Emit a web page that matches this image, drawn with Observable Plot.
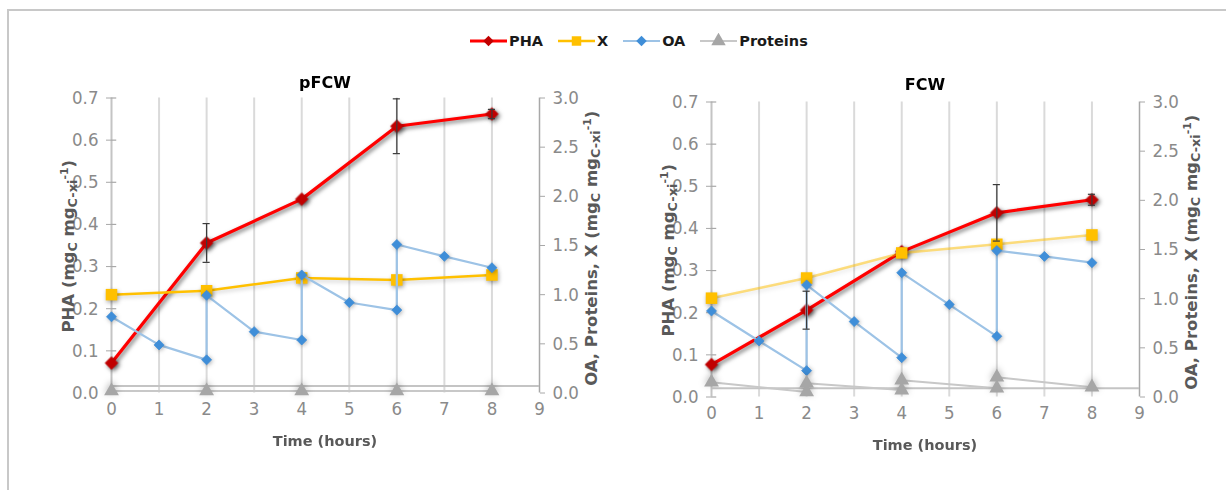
<!DOCTYPE html>
<html>
<head>
<meta charset="utf-8">
<script src="https://cdn.jsdelivr.net/npm/d3@7"></script>
<script src="https://cdn.jsdelivr.net/npm/@observablehq/plot@0.6"></script>
<style>
  body { margin: 0; background: #fff; }
  #fig { position: relative; width: 1226px; height: 490px; overflow: hidden; background: #fff; }
  #frame { position: absolute; left: 7px; top: 9px; width: 1240px; height: 500px;
           border-top: 2px solid #c8c8c8; border-left: 2px solid #c8c8c8; }
  #legend { position: absolute; top: 33px; left: 470px; display: flex; align-items: center; gap: 15px;
            font-family: "DejaVu Sans", sans-serif; font-weight: bold; font-size: 14.5px; color: #1a1a1a; }
  #legend .item { display: flex; align-items: center; gap: 2px; }
  .panel { position: absolute; }
  .panel svg { overflow: visible; }
  g[aria-description="pha-line"], g[aria-description="pha-dots"] { filter: drop-shadow(2px 2px 2px rgba(0,0,0,0.55)); }
  g[aria-description="x-line"] { filter: drop-shadow(1px 2px 2px rgba(0,0,0,0.2)); }
  g[aria-description="x-dots"] { filter: drop-shadow(1px 2px 2px rgba(0,0,0,0.35)); }
  g[aria-description="oa-dots"] { filter: drop-shadow(1px 1px 2px rgba(0,0,0,0.3)); }
  g[aria-description="prot-dots"] { filter: drop-shadow(0px -2px 3px rgba(0,0,0,0.25)); }
</style>
</head>
<body>
<div id="fig">
  <div id="frame"></div>
  <div id="legend"></div>
  <div id="left" class="panel" style="left:0px; top:60px;"></div>
  <div id="right" class="panel" style="left:600px; top:63.5px;"></div>
</div>
<script>
// ---------- data ----------
const phaHours = [0, 2, 4, 6, 8];
const oaHours = [0, 1, 2, 2, 3, 4, 4, 5, 6, 6, 7, 8];
const xTickValues = [0, 1, 2, 3, 4, 5, 6, 7, 8, 9];
const leftTicks = [0, 0.1, 0.2, 0.3, 0.4, 0.5, 0.6, 0.7];
const rightTicks = [0, 0.5, 1.0, 1.5, 2.0, 2.5, 3.0];
const seriesNames = ["PHA", "X", "OA", "Proteins"];

// pFCW
const pFCW_PHA = [0.071, 0.356, 0.460, 0.633, 0.662];
const pFCW_PHA_sd = [0, 0.046, 0, 0.065, 0.011];
const pFCW_X = [1.00, 1.04, 1.17, 1.15, 1.20];
const pFCW_OA = [0.775, 0.489, 0.337, 0.994, 0.624, 0.539, 1.20, 0.92, 0.843, 1.51, 1.39, 1.274];
const pFCW_protHours = [0, 2, 4, 6, 8];
const pFCW_Prot = [0.02, 0.02, 0.02, 0.02, 0.02];
const pFCW_baseLine = 0.07;

// FCW
const FCW_PHA = [0.077, 0.206, 0.345, 0.437, 0.468];
const FCW_PHA_sd = [0, 0.045, 0, 0.067, 0.013];
const FCW_X = [1.005, 1.21, 1.465, 1.553, 1.648];
const FCW_OA = [0.875, 0.57, 0.268, 1.14, 0.767, 0.40, 1.263, 0.94, 0.617, 1.489, 1.43, 1.366];
const FCW_protHours = [0, 2, 2, 4, 4, 6, 6, 8];
const FCW_Prot = [0.15, 0.05, 0.14, 0.07, 0.17, 0.09, 0.20, 0.10];
const FCW_baseLine = 0.09;

// ---------- drawing ----------
const K = 0.7 / 3; // secondary (right) axis value -> primary scale
const tickFont = "'Liberation Sans Narrow','DejaVu Sans Condensed',sans-serif";
const labelFont = "'DejaVu Sans',sans-serif";

function addRich(g, parts, size) {
  parts.forEach(p => {
    const t = g.append("tspan").text(p.t);
    if (p.sub) t.attr("font-size", size * 0.78).attr("baseline-shift", "-22%");
    else if (p.sup) t.attr("font-size", size * 0.66).attr("baseline-shift", "55%");
  });
}

function drawPanel(host, cfg) {
  const phaRows = phaHours.map((h, i) => ({h, v: cfg.pha[i], sd: cfg.sd[i]}));
  const errRows = phaRows.filter(d => d.sd > 0);
  const xRows = phaHours.map((h, i) => ({h, v: cfg.x[i] * K}));
  const oaRows = oaHours.map((h, i) => ({h, v: cfg.oa[i] * K}));
  const protRows = cfg.protHours.map((h, i) => ({h, v: cfg.prot[i] * K}));

  const svg = Plot.plot({
    width: 600, height: 400,
    marginLeft: 111, marginRight: 61, marginTop: 37.5, marginBottom: 67.5,
    style: {fontFamily: tickFont, fontSize: "18.5px", color: "#8a8a8a", background: "transparent", overflow: "visible"},
    x: {domain: [0, 9]},
    y: {domain: [0, 0.7]},
    marks: [
      Plot.ruleX(xTickValues.slice(1, 9), {stroke: "#dadada", strokeWidth: 2}),
      Plot.ruleX([0], {stroke: "#c4c4c4", strokeWidth: 2}),
      Plot.ruleX([9], {stroke: "#a8a8a8", strokeWidth: 1.5}),
      Plot.ruleY([cfg.base * K], {stroke: "#c4c4c4", strokeWidth: 2}),
      Plot.axisY({anchor: "left", ticks: leftTicks, tickFormat: d3.format(".1f"), tickSize: 5, tickPadding: 8, label: null, stroke: "#a8a8a8"}),
      Plot.ruleY(leftTicks, {x1: 0, x2: 0.11, stroke: "#a8a8a8", strokeWidth: 1.2}),
      Plot.axisY({anchor: "right", ticks: rightTicks.map(v => v * K), tickFormat: d => (d / K).toFixed(1), tickSize: 5, tickPadding: 8, label: null, stroke: "#a8a8a8"}),
      Plot.axisX({ticks: xTickValues, tickFormat: d => String(d), tickSize: 0, tickPadding: 9, label: null}),
      // PHA
      Plot.line(phaRows, {x: "h", y: "v", stroke: "#ff0000", strokeWidth: 3.2, ariaDescription: "pha-line"}),
      Plot.dot(phaRows, {x: "h", y: "v", symbol: "diamond2", r: 5.6, fill: "#c00000", stroke: "#c00000", strokeWidth: 1, ariaDescription: "pha-dots"}),
      // X
      Plot.line(xRows, {x: "h", y: "v", stroke: "#ffc000", strokeOpacity: cfg.xOpacity, strokeWidth: 2.5, ariaDescription: "x-line"}),
      Plot.dot(xRows, {x: "h", y: "v", symbol: "square", r: 6.5, fill: "#ffc000", stroke: "none", ariaDescription: "x-dots"}),
      // OA
      Plot.line(oaRows, {x: "h", y: "v", stroke: "#9dc3e6", strokeWidth: 2.2}),
      Plot.dot(oaRows, {x: "h", y: "v", symbol: "diamond2", r: 4.5, fill: "#3f8ed8", stroke: "#3f8ed8", strokeWidth: 0.8, ariaDescription: "oa-dots"}),
      // Proteins
      Plot.line(protRows, {x: "h", y: "v", stroke: "#c8c8c8", strokeWidth: 2}),
      Plot.dot(protRows, {x: "h", y: "v", symbol: "triangle", r: 5.5, fill: "#a6a6a6", stroke: "none", ariaDescription: "prot-dots"}),
      // PHA error bars
      Plot.ruleX(errRows, {x: "h", y1: d => d.v - d.sd, y2: d => d.v + d.sd, stroke: "#3a3a3a", strokeWidth: 1.2}),
      Plot.ruleY(errRows, {y: d => d.v + d.sd, x1: d => d.h - 0.075, x2: d => d.h + 0.075, stroke: "#3a3a3a", strokeWidth: 1.2}),
      Plot.ruleY(errRows, {y: d => d.v - d.sd, x1: d => d.h - 0.075, x2: d => d.h + 0.075, stroke: "#3a3a3a", strokeWidth: 1.2})
    ]
  });

  const s = d3.select(svg);
  const midY = 37.5 + 297.5 / 2;
  // title
  s.append("text").attr("x", 325).attr("y", cfg.titleY).attr("text-anchor", "middle")
    .attr("font-family", labelFont).attr("font-weight", "bold").attr("font-size", 16).attr("fill", "#000")
    .text(cfg.title);
  // x label
  s.append("text").attr("x", 325).attr("y", 386).attr("text-anchor", "middle")
    .attr("font-family", labelFont).attr("font-weight", "bold").attr("font-size", 14.5).attr("fill", "#595959")
    .text("Time (hours)");
  // left y label
  const ly = s.append("text").attr("transform", `translate(74,${midY}) rotate(-90)`).attr("text-anchor", "middle")
    .attr("font-family", labelFont).attr("font-weight", "bold").attr("font-size", 16.5).attr("fill", "#595959");
  addRich(ly, [{t: "PHA (mg"}, {t: "C", sub: true}, {t: " mg"}, {t: "C-xi", sub: true}, {t: "-1", sup: true}, {t: ")"}], 16.5);
  // right y label
  const ry = s.append("text").attr("transform", `translate(597,${midY + 2}) rotate(-90)`).attr("text-anchor", "middle")
    .attr("font-family", labelFont).attr("font-weight", "bold").attr("font-size", 16.5).attr("fill", "#595959");
  addRich(ry, [{t: "OA, Proteins, X (mg"}, {t: "C", sub: true}, {t: " mg"}, {t: "C-xi", sub: true}, {t: "-1", sup: true}, {t: ")"}], 16.5);

  document.getElementById(host).appendChild(svg);
}

drawPanel("left", {title: "pFCW", titleY: 28, pha: pFCW_PHA, sd: pFCW_PHA_sd, x: pFCW_X, oa: pFCW_OA,
  protHours: pFCW_protHours, prot: pFCW_Prot, base: pFCW_baseLine, xOpacity: 1});
drawPanel("right", {title: "FCW", titleY: 26, pha: FCW_PHA, sd: FCW_PHA_sd, x: FCW_X, oa: FCW_OA,
  protHours: FCW_protHours, prot: FCW_Prot, base: FCW_baseLine, xOpacity: 0.5});

// ---------- legend ----------
const legendStyle = {
  PHA: {line: "#ff0000", w: 3.2, marker: "diamond", fill: "#c00000"},
  X: {line: "#ffc000", w: 2.5, marker: "square", fill: "#ffc000"},
  OA: {line: "#9dc3e6", w: 2.2, marker: "diamond", fill: "#3f8ed8"},
  Proteins: {line: "#c8c8c8", w: 2, marker: "triangle", fill: "#a6a6a6"}
};
const leg = d3.select("#legend");
seriesNames.forEach(name => {
  const st = legendStyle[name];
  const item = leg.append("div").attr("class", "item");
  const sw = item.append("svg").attr("width", 37).attr("height", 16);
  sw.append("line").attr("x1", 0).attr("x2", 37).attr("y1", 8).attr("y2", 8)
    .attr("stroke", st.line).attr("stroke-width", st.w);
  const sym = st.marker === "diamond" ? d3.symbolDiamond2 : st.marker === "square" ? d3.symbolSquare : d3.symbolTriangle;
  const size = st.marker === "diamond" ? 70 : 90;
  sw.append("path").attr("transform", "translate(18.5,8)").attr("d", d3.symbol(sym, size)()).attr("fill", st.fill);
  item.append("span").text(name);
});
</script>
</body>
</html>
